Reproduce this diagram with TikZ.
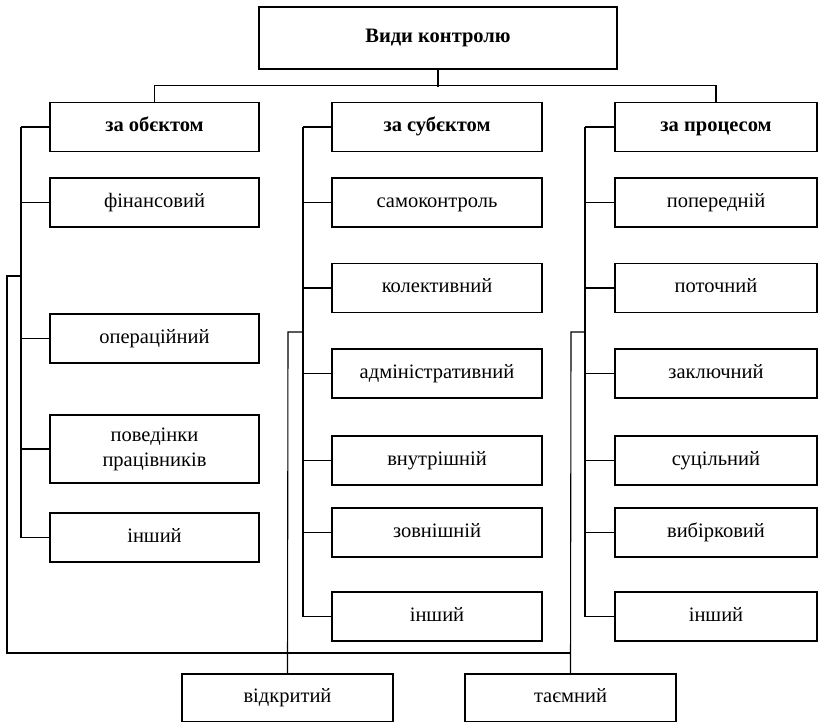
\documentclass[tikz,border=0pt]{standalone}
\usepackage{fontspec}
\setmainfont{Liberation Serif}
\begin{document}
\begin{tikzpicture}[x=1pt,y=-1pt,
  line width=1.1pt,
  box/.style={draw, rectangle, inner sep=0pt, minimum height=49pt,
    font=\fontsize{20.5}{25}\selectfont, align=center,
    text height=12pt, text depth=2.6pt},
  twoline/.style={text height=, text depth=},
  head/.style={box, font=\fontsize{20.5}{25}\selectfont\bfseries},
  colA/.style={minimum width=209pt},
  colB/.style={minimum width=210pt},
  colC/.style={minimum width=202pt},
  wire/.style={draw, line width=1.1pt}]
\useasboundingbox (0,0) rectangle (819,722);

% root
\node[head, minimum width=358pt, minimum height=62pt] (root) at (438,38) {Види контролю};

% column headers
\node[head, colA] (h1) at (154.5,127) {за обєктом};
\node[head, colB] (h2) at (437,127) {за субєктом};
\node[head, colC] (h3) at (716,127) {за процесом};

% column 1
\node[box, colA] (a1) at (154.5,202.5) {фінансовий};
\node[box, colA] (a2) at (154.5,338.5) {операційний};
\node[box, colA, twoline, minimum height=68pt] (a3) at (154.5,449) {поведінки\\працівників};
\node[box, colA] (a4) at (154.5,537.5) {інший};

% column 2
\node[box, colB] (b1) at (437,202.5) {самоконтроль};
\node[box, colB] (b2) at (437,288) {колективний};
\node[box, colB] (b3) at (437,373.5) {адміністративний};
\node[box, colB] (b4) at (437,460.5) {внутрішній};
\node[box, colB] (b5) at (437,532.5) {зовнішній};
\node[box, colB] (b6) at (437,616.5) {інший};

% column 3
\node[box, colC] (c1) at (716,202.5) {попередній};
\node[box, colC] (c2) at (716,288) {поточний};
\node[box, colC] (c3) at (716,373.5) {заключний};
\node[box, colC] (c4) at (716,460.5) {суцільний};
\node[box, colC] (c5) at (716,532.5) {вибірковий};
\node[box, colC] (c6) at (716,616.5) {інший};

% bottom row
\node[box, minimum width=211pt, minimum height=48pt] (v1) at (287.5,698) {відкритий};
\node[box, minimum width=211pt, minimum height=48pt] (v2) at (570.5,698) {таємний};

% bus positions
\coordinate (busA) at (21,0);
\coordinate (busB) at (303,0);
\coordinate (busC) at (585,0);
\coordinate (outA) at (7,276);
\coordinate (outB) at (288,332);
\coordinate (outC) at (571,332);
\coordinate (base) at (0,653);

% root to headers
\draw[wire] (root.south) -- ++(0,17.5);
\draw[wire] (h1.north) -- ++(0,-16) -| (h3.north);

% column buses
\draw[wire] (h1.west -| busA) -- (a4.west -| busA);
\draw[wire] (h2.west -| busB) -- (b6.west -| busB);
\draw[wire] (h3.west -| busC) -- (c6.west -| busC);
\foreach \n in {h1,a1,a2,a3,a4} \draw[wire] (\n.west) -- (\n.west -| busA);
\foreach \n in {h2,b1,b2,b3,b4,b5,b6} \draw[wire] (\n.west) -- (\n.west -| busB);
\foreach \n in {h3,c1,c2,c3,c4,c5,c6} \draw[wire] (\n.west) -- (\n.west -| busC);

% outer loop and bottom boxes
\draw[wire] (outA -| busA) -- (outA) |- (base -| outC);
\draw[wire] (outB -| busB) -- (outB) -- (v1.north);
\draw[wire] (outC -| busC) -- (outC) -- (v2.north);
\end{tikzpicture}
\end{document}
